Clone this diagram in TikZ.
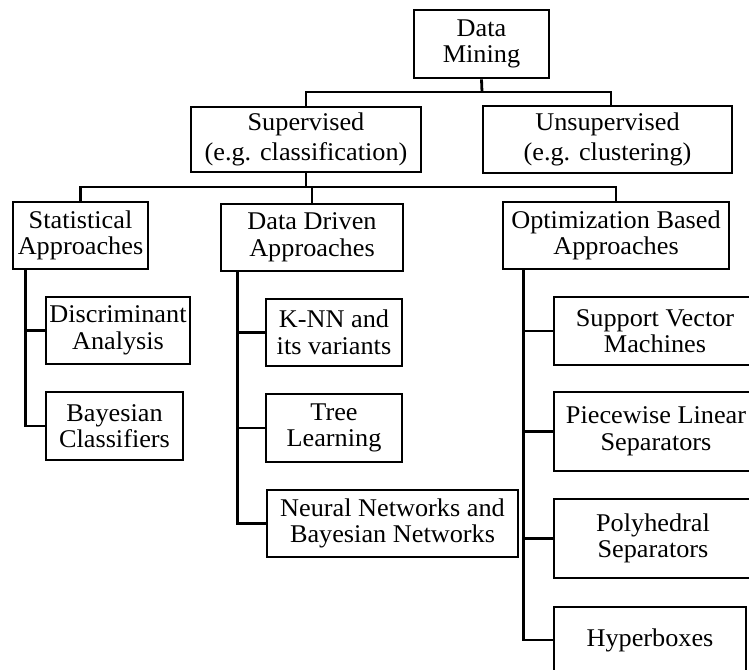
\documentclass[tikz,border=0pt]{standalone}
\usepackage{fontspec}
\setmainfont{Liberation Serif}[FakeStretch=1.03]
\begin{document}
\begin{tikzpicture}[x=1pt,y=-1pt,
  box/.style={draw,line width=2.8pt,rectangle,inner sep=0pt,align=center,
    font=\fontsize{25.5}{26.5}\selectfont},
  wide/.style={box,font=\fontsize{25.5}{29.5}\selectfont},
  link/.style={line width=2.8pt}]
\useasboundingbox (0,0) rectangle (749,669);
\clip (0,0) rectangle (749,669);

% root and first level
\node[box,minimum width=135,minimum height=68] (dm) at (481.5,44) {Data\\Mining};
\node[wide,minimum width=230,minimum height=65] (sup) at (306,139.5) {Supervised\\(e.g. classification)};
\node[wide,minimum width=249,minimum height=67] (uns) at (607.5,139.5) {Unsupervised\\(e.g. clustering)};

% families of supervised methods
\node[box,minimum width=135,minimum height=67] (stat) at (80.5,235.5) {Statistical\\Approaches};
\node[box,minimum width=182,minimum height=67] (dd) at (312,237.5) {Data Driven\\Approaches};
\node[box,minimum width=226,minimum height=67] (opt) at (616,235.5) {Optimization Based\\Approaches};

% statistical methods
\node[box,minimum width=144,minimum height=67] (disc) at (118,330.5) {Discriminant\\Analysis};
\node[box,minimum width=137,minimum height=68] (bayes) at (114.5,426) {Bayesian\\Classifiers};

% data driven methods
\node[box,minimum width=136,minimum height=67] (knn) at (334,332.5) {K-NN and\\its variants};
\node[box,minimum width=136,minimum height=68] (tree) at (334,428) {Tree\\Learning};
\node[box,minimum width=251,minimum height=67] (nn) at (392.5,523.5) {Neural Networks and\\Bayesian Networks};

% optimization based methods
\node[box,minimum width=202,minimum height=68] (svm) at (655,331) {Support Vector\\Machines};
\node[box,minimum width=204,minimum height=79] (pw) at (656,431.5) {Piecewise Linear\\Separators};
\node[box,minimum width=198,minimum height=79] (poly) at (653,538.5) {Polyhedral\\Separators};
\node[box,minimum width=192,minimum height=66] (hyp) at (650,640) {Hyperboxes};

% buses
\coordinate (bus1) at (482,92);
\coordinate (bus2) at (306,187);

\draw[link] (dm.south) -- (bus1);
\draw[link] (sup.north) |- (bus1) -| ([xshift=3.5pt]uns.north);

\draw[link] (sup.south) -- (bus2);
\draw[link] (stat.north) |- (bus2) -| (opt.north);
\draw[link] (dd.north) -- (dd.north |- bus2);

% trunks
\draw[link] ([xshift=14pt]stat.south west) |- (disc.west);
\draw[link] ([xshift=14pt]stat.south west) |- (bayes.west);

\draw[link] ([xshift=18pt]dd.south west) |- (knn.west);
\draw[link] ([xshift=18pt]dd.south west) |- (tree.west);
\draw[link] ([xshift=18pt]dd.south west) |- (nn.west);

\draw[link] ([xshift=22pt]opt.south west) |- (svm.west);
\draw[link] ([xshift=22pt]opt.south west) |- (pw.west);
\draw[link] ([xshift=22pt]opt.south west) |- (poly.west);
\draw[link] ([xshift=22pt]opt.south west) |- (hyp.west);
\end{tikzpicture}
\end{document}
